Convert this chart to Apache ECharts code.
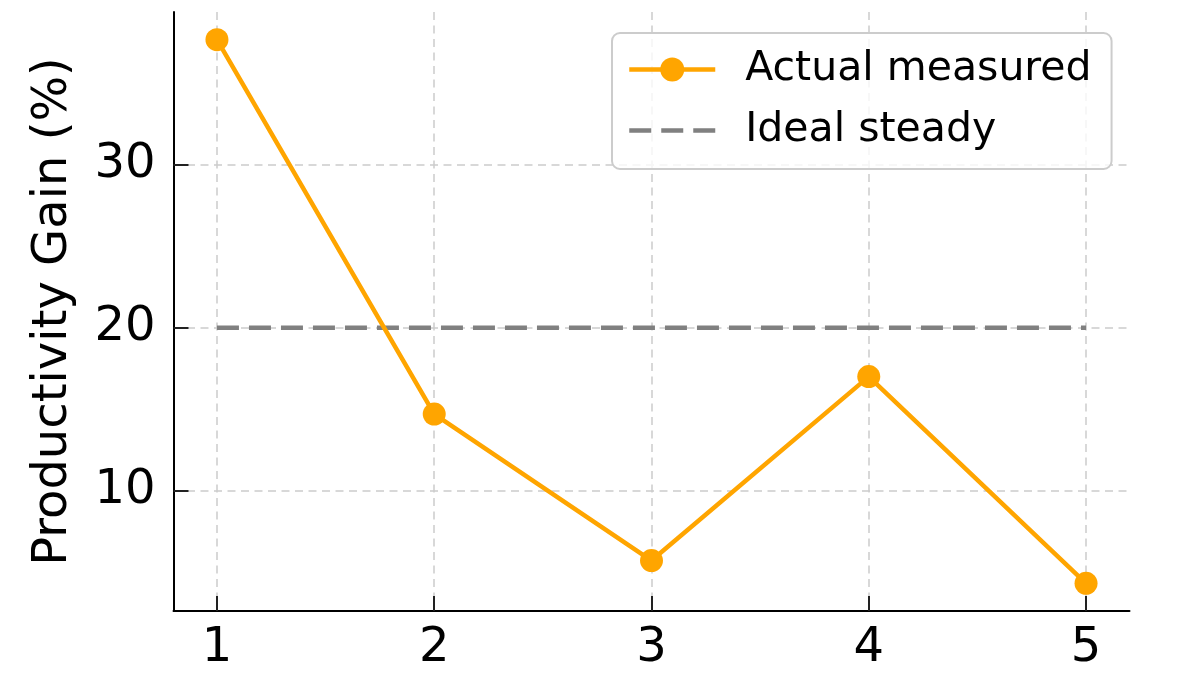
<!DOCTYPE html>
<html>
<head>
<meta charset="utf-8">
<script src="https://cdn.jsdelivr.net/npm/echarts@6/dist/echarts.min.js"></script>
<style>
  html, body { margin: 0; padding: 0; background: #fff; }
  #main { width: 1200px; height: 675px; }
</style>
</head>
<body>
<div id="main"></div>
<script>
var xValues = [1, 2, 3, 4, 5];
var actualMeasured = [37.7, 14.7, 5.7, 17.0, 4.3];
var idealSteady = [20, 20, 20, 20, 20];
var xTicks = [1, 2, 3, 4, 5];
var yTicks = [10, 20, 30];

var font = 'DejaVu Sans';
var gridLine = { show: true, lineStyle: { color: '#cccccc', width: 1.5, type: [8, 5.5] } };

function pairs(ys) {
  return xValues.map(function (x, i) { return [x, ys[i]]; });
}

var chart = echarts.init(document.getElementById('main'));
var option = {
  animation: false,
  backgroundColor: '#fff',
  grid: { left: 173.5, right: 70.5, top: 12, bottom: 64 },
  legend: {
    orient: 'vertical',
    left: 612,
    top: 33,
    padding: [16, 20, 18, 15],
    itemGap: 20,
    itemWidth: 86,
    itemHeight: 30,
    backgroundColor: 'rgba(255,255,255,0.8)',
    borderColor: '#cccccc',
    borderWidth: 2,
    borderRadius: 8,
    textStyle: { fontFamily: font, fontSize: 41, color: '#000', padding: [0, 0, 0, 25] },
    data: [
      { name: 'Actual measured', lineStyle: { width: 4.5 } },
      { name: 'Ideal steady', lineStyle: { width: 4.5, type: [22, 10] }, itemStyle: { opacity: 0 } }
    ]
  },
  xAxis: {
    type: 'value',
    min: 0.8,
    max: 5.2,
    axisLine: { show: true, onZero: false, lineStyle: { color: '#000', width: 2 } },
    axisTick: { show: true, inside: true, length: 15, customValues: xTicks, lineStyle: { color: '#222', width: 2 } },
    axisLabel: { customValues: xTicks, fontFamily: font, fontSize: 48, color: '#000', margin: 14 },
    splitLine: gridLine
  },
  yAxis: {
    type: 'value',
    min: 2.6,
    max: 39.4,
    name: 'Productivity Gain (%)',
    nameLocation: 'middle',
    nameGap: 96,
    nameTextStyle: { fontFamily: font, fontSize: 48, color: '#000' },
    axisLine: { show: true, lineStyle: { color: '#000', width: 2 } },
    axisTick: { show: true, inside: true, length: 15, customValues: yTicks, lineStyle: { color: '#222', width: 2 } },
    axisLabel: { customValues: yTicks, fontFamily: font, fontSize: 48, color: '#000', margin: 18 },
    splitLine: gridLine
  },
  series: [
    {
      name: 'Actual measured',
      type: 'line',
      data: pairs(actualMeasured),
      symbol: 'circle',
      symbolSize: 23,
      z: 3,
      itemStyle: { color: '#FFA500' },
      lineStyle: { color: '#FFA500', width: 4.5 }
    },
    {
      name: 'Ideal steady',
      type: 'line',
      data: pairs(idealSteady),
      showSymbol: false,
      symbol: 'none',
      z: 2,
      itemStyle: { color: '#808080' },
      lineStyle: { color: '#808080', width: 4.5, type: [22, 10] }
    }
  ]
};
chart.setOption(option);
</script>
</body>
</html>
